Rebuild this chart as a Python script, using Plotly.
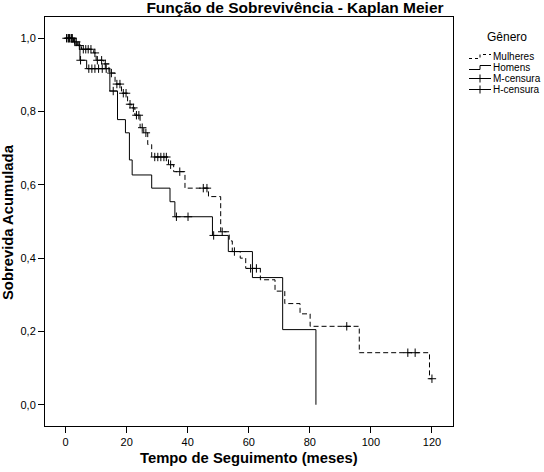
import numpy as np
import plotly.graph_objects as go

# ── Data ──────────────────────────────────────────────────────────────────────
# Homens: event times (months) and survival after each step
h_time = [0, 3.0, 4.7, 6.9, 14.5, 17.0, 19.6, 20.9, 21.8, 28.2, 34.2, 35.8,
          48.1, 53.3, 61.2, 71.1, 82.0]
h_surv = [1.0, 0.984, 0.94, 0.917, 0.856, 0.778, 0.742, 0.668, 0.627, 0.591,
          0.554, 0.513, 0.462, 0.418, 0.347, 0.205, 0.0]
h_cens = [1.0, 2.0, 4.9, 7.6, 8.6, 9.6, 10.8, 12.0, 13.3, 15.6, 36.3, 40.1, 48.5]

# Mulheres
m_time = [0, 2.6, 4.0, 5.2, 9.2, 10.0, 12.4, 14.2, 16.2, 18.3, 20.3, 21.6,
          22.7, 24.4, 25.6, 26.9, 28.2, 33.7, 35.4, 39.1, 46.8, 50.8, 53.6,
          54.6, 57.2, 59.0, 63.8, 68.6, 71.8, 76.8, 80.1, 96.2, 119.2]
m_surv = [1.0, 0.99, 0.98, 0.97, 0.96, 0.94, 0.93, 0.905, 0.875, 0.85, 0.82,
          0.81, 0.79, 0.756, 0.742, 0.71, 0.676, 0.655, 0.636, 0.591, 0.568,
          0.472, 0.447, 0.418, 0.40, 0.372, 0.341, 0.31, 0.276, 0.248, 0.214,
          0.142, 0.071]
m_cens = [0.3, 0.8, 1.3, 1.8, 2.2, 3.0, 3.5, 4.5, 5.8, 6.6, 7.4, 8.3, 9.6,
          10.4, 11.8, 13.0, 15.0, 16.8, 17.8, 18.9, 19.8, 21.1, 22.2, 23.2,
          24.0, 25.1, 26.3, 29.2, 30.2, 31.2, 32.2, 33.0, 34.4, 37.4, 45.1,
          46.3, 51.3, 55.3, 60.6, 62.5, 92.1, 112.1, 114.5, 120.0]

legend_labels = ["Mulheres", "Homens", "M-censura", "H-censura"]

x_ticks = [0, 20, 40, 60, 80, 100, 120]
y_ticks = [0.0, 0.2, 0.4, 0.6, 0.8, 1.0]

FONT = "Liberation Sans, Arial, sans-serif"
W, H = 544, 472
ML, MR, MT, MB = 45, 91, 17, 46


def surv_at(times, surv, t):
    i = np.searchsorted(np.array(times), t, side="right") - 1
    return surv[i]


def step_curve(times, surv, cens):
    # carry the last level out to the last censor after the last event
    xs, ys = list(times), list(surv)
    last_c = max([c for c in cens if c > times[-1]], default=None)
    if last_c is not None:
        xs.append(last_c)
        ys.append(surv[-1])
    return xs, ys


fig = go.Figure()

mx, my = step_curve(m_time, m_surv, m_cens)
fig.add_trace(go.Scatter(
    x=mx, y=my, mode="lines", line_shape="hv",
    line=dict(color="black", width=1, dash="5px,3px"), showlegend=False,
))
hx, hy = step_curve(h_time, h_surv, h_cens)
fig.add_trace(go.Scatter(
    x=hx, y=hy, mode="lines", line_shape="hv",
    line=dict(color="black", width=1), showlegend=False,
))

for cens, times, surv in [(m_cens, m_time, m_surv), (h_cens, h_time, h_surv)]:
    fig.add_trace(go.Scatter(
        x=cens, y=[surv_at(times, surv, c) for c in cens], mode="markers",
        marker=dict(symbol="cross-thin", size=6, color="black",
                    line=dict(color="black", width=1)),
        showlegend=False,
    ))


# ── Manual legend (SPSS style) ───────────────────────────────────────────────
def px_x(px):
    return (px - ML) / (W - ML - MR)


def px_y(py):
    return (H - MB - py) / (H - MT - MB)


def txt(x, y, text, size, **kw):
    return dict(x=px_x(x), y=px_y(y), xref="paper", yref="paper", text=text,
                showarrow=False, yanchor="middle",
                font=dict(size=size, color="black", family=FONT), **kw)


shapes = []
annotations = [txt(507, 37, "Gênero", 12, xanchor="center")]
rows = [56.5, 67.5, 78.5, 89.5]
for lab, yy in zip(legend_labels, rows):
    annotations.append(txt(491, yy, lab, 10, xanchor="left"))


def step_path(y0):
    return (f"M {px_x(469)},{px_y(y0 + 2)} L {px_x(480)},{px_y(y0 + 2)} "
            f"L {px_x(480)},{px_y(y0 - 2)} L {px_x(491)},{px_y(y0 - 2)}")


shapes.append(dict(type="path", xref="paper", yref="paper", path=step_path(rows[0]),
                   line=dict(color="black", width=1, dash="3px,3px")))
shapes.append(dict(type="path", xref="paper", yref="paper", path=step_path(rows[1]),
                   line=dict(color="black", width=1)))
for y0 in rows[2:]:
    shapes.append(dict(type="line", xref="paper", yref="paper",
                       x0=px_x(469), x1=px_x(491), y0=px_y(y0), y1=px_y(y0),
                       line=dict(color="black", width=1)))
    shapes.append(dict(type="line", xref="paper", yref="paper",
                       x0=px_x(480), x1=px_x(480), y0=px_y(y0 - 4), y1=px_y(y0 + 4),
                       line=dict(color="black", width=1)))

# axis titles
annotations.append(txt(249, 458, "<b>Tempo de Seguimento (meses)</b>", 14.8,
                       xanchor="center"))
annotations.append(txt(8, 222, "<b>Sobrevida Acumulada</b>", 14.8,
                       xanchor="center", textangle=-90))

fig.update_layout(
    width=W, height=H,
    margin=dict(l=ML, r=MR, t=MT, b=MB),
    paper_bgcolor="white", plot_bgcolor="white",
    separators=",.",
    font=dict(family=FONT, color="black", size=11),
    title=dict(text="<b>Função de Sobrevivência - Kaplan Meier</b>",
               x=295 / W, xref="container", xanchor="center",
               y=1 - 8 / H, yref="container", yanchor="middle",
               font=dict(size=15.5, color="black", family=FONT)),
    xaxis=dict(range=[-6.75, 126.9], tickvals=x_ticks, ticks="outside",
               ticklen=6, tickcolor="black", showgrid=False, zeroline=False,
               showline=True, linecolor="black", linewidth=1, mirror=True,
               tickfont=dict(size=11)),
    yaxis=dict(range=[-0.058, 1.058], tickvals=y_ticks, tickformat=".1f",
               ticks="outside", ticklen=6, tickcolor="black", showgrid=False,
               zeroline=False, showline=True, linecolor="black", linewidth=1,
               mirror=True, tickfont=dict(size=11)),
    shapes=shapes,
    annotations=annotations,
)

# the page's default body margin would shift the chart and add a scrollbar
fig.write_html("out.html", config={"displayModeBar": False},
               post_script="document.body.style.margin='0px';")
